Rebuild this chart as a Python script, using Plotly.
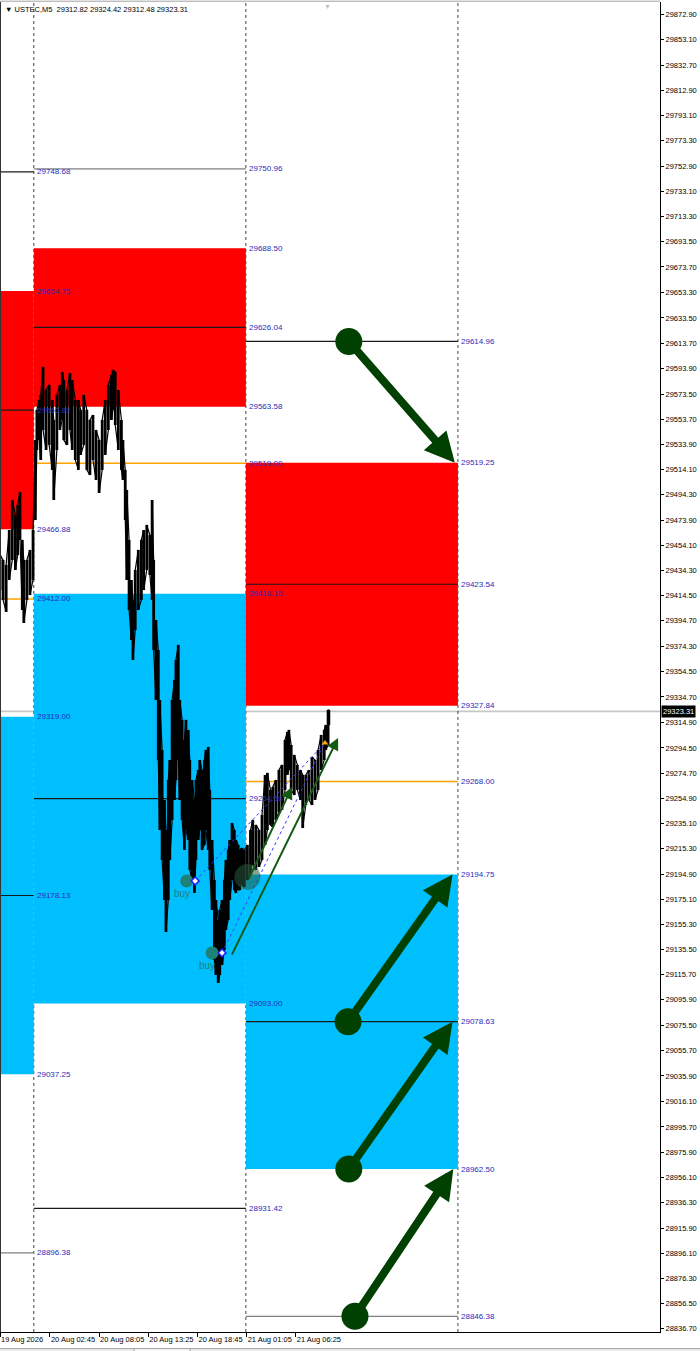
import plotly.graph_objects as go

FONT = "Liberation Sans, Arial, sans-serif"

# ---------------- axis ticks ----------------
price_ticks = [29872.90, 29853.10, 29832.70, 29812.90, 29793.10, 29773.30, 29752.90, 29733.10,
               29713.30, 29693.50, 29673.70, 29653.30, 29633.50, 29613.70, 29593.90, 29573.50,
               29553.70, 29533.90, 29514.10, 29494.30, 29473.90, 29454.10, 29434.30, 29414.50,
               29394.70, 29374.30, 29354.50, 29334.70, 29314.90, 29294.50, 29274.70, 29254.90,
               29235.10, 29215.30, 29194.90, 29175.10, 29155.30, 29135.50, 29115.70, 29095.90,
               29075.50, 29055.70, 29035.90, 29016.10, 28995.70, 28975.90, 28956.10, 28936.30,
               28915.90, 28896.10, 28876.30, 28856.50, 28836.70]
time_tick_bars = [0, 65, 129, 193, 257, 321, 385]
time_tick_labels = ["19 Aug 2026", "20 Aug 02:45", "20 Aug 08:05", "20 Aug 13:25",
                    "20 Aug 18:45", "21 Aug 01:05", "21 Aug 06:25"]

# ---------------- price series (M5 bar groups: index, high, low) ----------------
bar_idx = [0, 4, 8, 12, 16, 20, 23, 26, 29, 31, 35, 39, 43, 46, 48, 51, 53, 56, 60, 64,
           68, 70, 74, 78, 81, 83, 87, 91, 94, 98, 102, 105, 109, 113, 117, 121, 125, 129, 133, 137,
           141, 145, 147, 150, 154, 158, 160, 163, 165, 168, 171, 173, 176, 180, 184, 187, 191, 195, 198, 200,
           203, 206, 208, 211, 214, 216, 219, 221, 224, 227, 229, 232, 234, 237, 240, 242, 245, 247, 250, 253,
           255, 258, 260, 263, 266, 268, 271, 273, 276, 279, 281, 284, 286, 289, 292, 294, 297, 299, 302, 305,
           307, 310, 312, 315, 318, 322, 326, 329, 333, 337, 341, 345, 348, 352, 355, 359, 363, 367, 371, 374,
           376, 379, 383, 387, 391, 394, 398, 402, 406, 410, 414, 418, 422, 424, 427, 428]
bar_high = [29446.6, 29442.7, 29438.8, 29466.3, 29490.0, 29478.2, 29486.1, 29496.3, 29458.5, 29442.7,
            29442.7, 29450.6, 29466.3, 29537.3, 29561.0, 29568.8, 29572.8, 29594.9, 29576.7, 29580.7,
            29568.8, 29553.1, 29572.8, 29580.7, 29590.9, 29584.6, 29576.7, 29590.1, 29584.6, 29568.8,
            29568.8, 29561.0, 29572.8, 29561.0, 29553.1, 29557.0, 29545.2, 29537.3, 29553.1, 29568.8,
            29580.7, 29588.6, 29592.5, 29590.9, 29576.7, 29553.1, 29537.3, 29513.7, 29497.9, 29458.5,
            29426.9, 29411.2, 29434.8, 29450.6, 29458.5, 29466.3, 29470.3, 29462.4, 29490.0, 29442.7,
            29395.4, 29371.7, 29332.3, 29292.9, 29253.5, 29229.8, 29269.2, 29285.0, 29332.3, 29348.1,
            29363.9, 29375.7, 29332.3, 29316.6, 29300.8, 29316.6, 29308.7, 29285.0, 29269.2, 29253.5,
            29269.2, 29277.1, 29285.0, 29277.1, 29285.0, 29292.9, 29295.3, 29261.4, 29221.9, 29190.4,
            29174.6, 29158.9, 29166.8, 29174.6, 29190.4, 29206.2, 29214.1, 29221.9, 29235.3, 29229.8,
            29221.9, 29218.0, 29214.1, 29215.6, 29214.1, 29218.0, 29229.8, 29237.7, 29233.8, 29229.8,
            29241.7, 29273.2, 29274.8, 29261.4, 29263.7, 29269.2, 29277.1, 29281.1, 29300.8, 29307.1,
            29308.7, 29296.8, 29289.0, 29281.1, 29277.1, 29273.2, 29273.2, 29277.1, 29287.4, 29285.0,
            29292.9, 29304.7, 29308.7, 29312.6, 29324.4, 29324.42]
bar_low = [29419.0, 29411.2, 29401.7, 29426.9, 29442.7, 29434.8, 29446.6, 29458.5, 29403.3, 29393.0,
           29411.2, 29415.1, 29426.9, 29474.2, 29529.4, 29537.3, 29521.5, 29545.2, 29529.4, 29533.4,
           29513.7, 29490.0, 29529.4, 29545.2, 29553.1, 29537.3, 29533.4, 29545.2, 29529.4, 29521.5,
           29513.7, 29525.5, 29533.4, 29513.7, 29509.7, 29521.5, 29505.8, 29495.5, 29513.7, 29525.5,
           29545.2, 29553.1, 29561.0, 29549.1, 29529.4, 29513.7, 29505.8, 29474.2, 29426.9, 29403.3,
           29379.6, 29363.9, 29387.5, 29403.3, 29411.2, 29419.0, 29434.8, 29430.9, 29411.2, 29371.7,
           29332.3, 29285.0, 29229.8, 29206.2, 29174.6, 29149.4, 29174.6, 29206.2, 29237.7, 29253.5,
           29269.2, 29285.0, 29253.5, 29237.7, 29214.1, 29229.8, 29221.9, 29198.3, 29190.4, 29180.2,
           29206.2, 29221.9, 29229.8, 29214.1, 29218.0, 29229.8, 29214.1, 29198.3, 29166.8, 29127.3,
           29115.5, 29109.2, 29115.5, 29123.4, 29135.2, 29151.0, 29158.9, 29174.6, 29190.4, 29182.5,
           29180.2, 29182.5, 29182.5, 29186.5, 29184.9, 29190.4, 29194.3, 29202.2, 29198.3, 29200.7,
           29206.2, 29218.0, 29229.8, 29233.8, 29232.2, 29237.7, 29244.0, 29245.6, 29261.4, 29273.2,
           29277.1, 29261.4, 29257.4, 29261.4, 29253.5, 29231.4, 29249.5, 29253.5, 29249.5, 29253.5,
           29261.4, 29277.1, 29285.0, 29292.9, 29296.8, 29312.48]
last_price = 29323.31
header_text = "▼ USTEC,M5  29312.82 29324.42 29312.48 29323.31"

# ---------------- day separators (bar index) ----------------
day_sep = [44, 320, 596]

# ---------------- supply / demand zones ----------------
zone_x0 = [-30, -30, 44, 44, 320, 320]
zone_x1 = [44, 44, 320, 320, 596, 596]
zone_lo = [29466.88, 29037.25, 29563.58, 29093.00, 29327.84, 28962.50]
zone_hi = [29654.75, 29319.00, 29688.50, 29416.15, 29519.25, 29194.75]
zone_kind = ["sell", "buy", "sell", "buy", "sell", "buy"]

# ---------------- horizontal levels ----------------
level_x0 = [-30, -30, -30, -30, -30, 44, 44, 44, 44, 44, 320, 320, 320, 320, 320]
level_x1 = [44, 44, 44, 44, 44, 320, 320, 320, 320, 320, 596, 596, 596, 596, 596]
level_price = [29748.68, 29560.82, 29412.00, 29178.13, 28896.38,
               29750.96, 29626.04, 29519.00, 29254.58, 28931.42,
               29614.96, 29423.54, 29268.00, 29078.63, 28846.38]
level_kind = ["line", "line", "pivot", "line", "edge",
              "edge", "line", "pivot", "line", "line",
              "line", "line", "pivot", "line", "edge"]

# ---------------- level labels ----------------
label_bar = [44] * 9 + [320] * 9 + [596] * 9
label_price = [29748.68, 29654.75, 29560.82, 29466.88, 29412.00, 29319.00, 29178.13, 29037.25, 28896.38,
               29750.96, 29688.50, 29626.04, 29563.58, 29519.00, 29416.15, 29254.58, 29093.00, 28931.42,
               29614.96, 29519.25, 29423.54, 29327.84, 29268.00, 29194.75, 29078.63, 28962.50, 28846.38]

# ---------------- projection arrows ----------------
arrow_from_bar = [454, 453, 454, 462]
arrow_from_price = [29614.96, 29078.63, 28962.50, 28846.38]
arrow_to_bar = [592, 589, 589, 590]
arrow_to_price = [29519.25, 29194.75, 29078.63, 28962.50]

# trend arrows
trend_from_bar = [301, 323]
trend_from_price = [29130.5, 29190.4]
trend_to_bar = [440, 380]
trend_to_price = [29302.4, 29263.7]

# trades
buy_mark_bar = [243, 276]
buy_entry_bar = [254, 289]
buy_entry_price = [29189.6, 29132.9]
buy_exit_bar = [423, 421]
buy_exit_price = [29298.4, 29296.8]
touch_bar = [322]
touch_price = [29192.8]

# ---------------- colours ----------------
RED = "#ff0000"
BLUE = "#00bfff"
ORANGE = "#ffa500"
GREEN = "#004000"
LABEL = "#2b2bb8"
level_color = {"line": "#1a1a1a", "pivot": ORANGE, "edge": "#808080"}
zone_color = {"sell": RED, "buy": BLUE}

fig = go.Figure()
shapes = []
for x0, x1, lo, hi, k in zip(zone_x0, zone_x1, zone_lo, zone_hi, zone_kind):
    shapes.append(dict(type="rect", xref="x", yref="y", x0=x0, x1=x1, y0=lo, y1=hi,
                       fillcolor=zone_color[k], line=dict(width=0), layer="below"))
for x0, x1, p, k in zip(level_x0, level_x1, level_price, level_kind):
    shapes.append(dict(type="line", xref="x", yref="y", x0=x0, x1=x1, y0=p, y1=p,
                       line=dict(color=level_color[k], width=1.2 if k != "pivot" else 1.5), layer="below"))
# bid line
shapes.append(dict(type="line", xref="paper", yref="y", x0=0, x1=1, y0=last_price, y1=last_price,
                   line=dict(color="#c8c8c8", width=1.6), layer="below"))
for s in day_sep:
    shapes.append(dict(type="line", xref="x", yref="paper", x0=s, x1=s, y0=0, y1=1,
                       line=dict(color="#444444", width=1, dash="dot"), layer="below"))
# chart frame
shapes.append(dict(type="line", xref="paper", yref="paper", x0=0, x1=0, y0=0, y1=1,
                   line=dict(color="#333333", width=2)))
shapes.append(dict(type="line", xref="paper", yref="paper", x0=0, x1=1, y0=1.0006, y1=1.0006,
                   line=dict(color="#a0a0a0", width=1)))
# bottom tab strip
shapes.append(dict(type="rect", xref="paper", yref="paper", x0=-0.01, x1=1.07, y0=-0.0145, y1=-0.0125,
                   fillcolor="#eeeeee", line=dict(width=0)))
shapes.append(dict(type="line", xref="paper", yref="paper", x0=-0.01, x1=1.07, y0=-0.0125, y1=-0.0125,
                   line=dict(color="#a0a0a0", width=1)))
shapes.append(dict(type="rect", xref="paper", yref="paper", x0=0.203, x1=0.288, y0=-0.0146, y1=-0.0125,
                   fillcolor="#ffffff", line=dict(color="#a0a0a0", width=1)))

# price bars: high-low strokes per bar group, plus a connecting zigzag
seg_x, seg_y = [], []
for b, h, l in zip(bar_idx, bar_high, bar_low):
    seg_x += [b, b, None]
    seg_y += [l, h, None]
fig.add_trace(go.Scatter(x=seg_x, y=seg_y, mode="lines", line=dict(color="black", width=2.8),
                         hoverinfo="skip", showlegend=False, connectgaps=False))
px_x, px_y = [], []
for i, (b, h, l) in enumerate(zip(bar_idx, bar_high, bar_low)):
    px_x += [b, b]
    px_y += ([l, h] if i % 2 == 0 else [h, l])
fig.add_trace(go.Scatter(x=px_x, y=px_y, mode="lines", line=dict(color="black", width=1.2),
                         hoverinfo="skip", showlegend=False))

# trade lines
for xb, yb, xe, ye in zip(buy_entry_bar, buy_entry_price, buy_exit_bar, buy_exit_price):
    fig.add_trace(go.Scatter(x=[xb, xe], y=[yb, ye], mode="lines",
                             line=dict(color="#3838ff", width=1, dash="dot"), showlegend=False))
fig.add_trace(go.Scatter(x=buy_mark_bar, y=buy_entry_price, mode="markers",
                         marker=dict(size=13, color="#1e8278"), showlegend=False))
fig.add_trace(go.Scatter(x=buy_entry_bar, y=buy_entry_price, mode="markers",
                         marker=dict(size=6, symbol="diamond", color="white",
                                     line=dict(color="#2020ff", width=1.5)), showlegend=False))
fig.add_trace(go.Scatter(x=[buy_exit_bar[0]], y=[buy_exit_price[0]], mode="markers",
                         marker=dict(size=6, symbol="triangle-up", color=ORANGE), showlegend=False))
fig.add_trace(go.Scatter(x=touch_bar, y=touch_price, mode="markers",
                         marker=dict(size=26, color="rgba(40,90,60,0.55)"), showlegend=False))
# arrow start circles
fig.add_trace(go.Scatter(x=arrow_from_bar, y=arrow_from_price, mode="markers",
                         marker=dict(size=27, color=GREEN), showlegend=False))

ann = []
for b, p in zip(label_bar, label_price):
    ann.append(dict(x=b, y=p, xref="x", yref="y", text=f"{p:.2f}", showarrow=False,
                    xanchor="left", yanchor="middle", xshift=1,
                    font=dict(family=FONT, size=8, color=LABEL)))
for fb, fp, tb, tp in zip(arrow_from_bar, arrow_from_price, arrow_to_bar, arrow_to_price):
    ann.append(dict(x=tb, y=tp, ax=fb, ay=fp, xref="x", yref="y", axref="x", ayref="y",
                    text="", showarrow=True, arrowhead=2, arrowsize=0.75, arrowwidth=8,
                    arrowcolor=GREEN, standoff=0))
for fb, fp, tb, tp in zip(trend_from_bar, trend_from_price, trend_to_bar, trend_to_price):
    ann.append(dict(x=tb, y=tp, ax=fb, ay=fp, xref="x", yref="y", axref="x", ayref="y",
                    text="", showarrow=True, arrowhead=2, arrowsize=1.2, arrowwidth=2,
                    arrowcolor="#135a13", standoff=0))
for b, p in zip(buy_mark_bar, buy_entry_price):
    ann.append(dict(x=b, y=p, xref="x", yref="y", text="buy", showarrow=False,
                    xshift=-5, yshift=-13, font=dict(family=FONT, size=10, color="#1e8278")))
ann.append(dict(x=1, y=last_price, xref="paper", yref="y", text=f"{last_price:.2f}", showarrow=False,
                xanchor="left", yanchor="middle", xshift=1, bgcolor="black", borderpad=1,
                font=dict(family=FONT, size=7.5, color="white")))
ann.append(dict(x=0.004, y=1, xref="paper", yref="paper", text=header_text, showarrow=False,
                xanchor="left", yanchor="top", yshift=-1,
                font=dict(family=FONT, size=7.5, color="black")))
ann.append(dict(x=0.4955, y=1, xref="paper", yref="paper", text="▼", showarrow=False,
                xanchor="center", yanchor="top", yshift=1,
                font=dict(family=FONT, size=7, color="#c0c0c0")))

fig.update_layout(
    width=700, height=1351,
    margin=dict(l=0, r=40, t=2, b=19, autoexpand=False),
    paper_bgcolor="white", plot_bgcolor="white",
    shapes=shapes, annotations=ann, showlegend=False,
    xaxis=dict(range=[0, 859], showgrid=False, zeroline=False, showline=True, linecolor="black",
               linewidth=1, tickvals=time_tick_bars, ticktext=time_tick_labels, ticks="outside",
               ticklen=4, tickcolor="black", ticklabelposition="outside right", tickangle=0,
               automargin=False,
               tickfont=dict(family=FONT, size=7.5, color="black"), fixedrange=True),
    yaxis=dict(range=[28834.0, 29882.6], side="right", showgrid=False, zeroline=False,
               showline=True, linecolor="black", linewidth=1, automargin=False,
               tickvals=price_ticks, ticktext=[f"{v:.2f}" for v in price_ticks],
               ticks="outside", ticklen=3, tickcolor="black",
               tickfont=dict(family=FONT, size=7.5, color="black"), fixedrange=True),
)

fig.write_html("out.html", config={"displayModeBar": False},
               post_script="document.body.style.margin='0';document.body.style.overflow='hidden';")
